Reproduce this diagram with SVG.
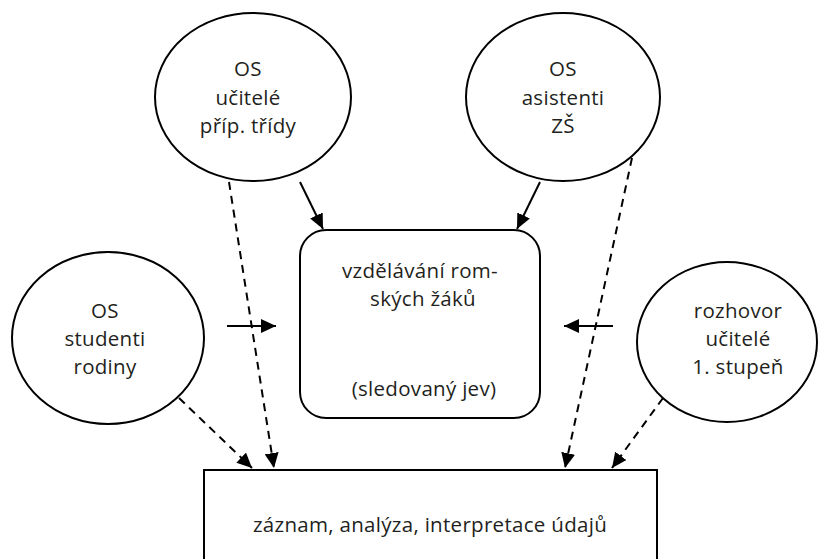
<svg xmlns="http://www.w3.org/2000/svg" width="819" height="559" viewBox="0 0 819 559">
<style>
.n{fill:#fff;stroke:#000;stroke-width:2}
.t{font-family:"Open Sans","Liberation Sans",sans-serif;font-size:20.5px;letter-spacing:0.3px;fill:#231f20;text-anchor:middle}
.c{fill:none;stroke:#000;stroke-width:2}
.d{stroke-dasharray:8 6}
</style>
<defs>
<marker id="ah" markerUnits="userSpaceOnUse" markerWidth="16" markerHeight="14" refX="15" refY="7" orient="auto">
<path d="M0,0 L15,7 L0,14 Z" fill="#000"/>
</marker>
</defs>
<g id="n1"><ellipse class="n" cx="253" cy="97" rx="98" ry="84"/>
<text class="t" x="248" y="76">OS</text><text class="t" x="248" y="105">učitelé</text><text class="t" x="248" y="133">příp. třídy</text></g>
<g id="n2"><ellipse class="n" cx="563" cy="97" rx="97" ry="84"/>
<text class="t" x="563" y="76">OS</text><text class="t" x="563" y="105">asistenti</text><text class="t" x="563" y="133">ZŠ</text></g>
<g id="n3"><ellipse class="n" cx="108" cy="338" rx="96" ry="86"/>
<text class="t" x="105" y="318">OS</text><text class="t" x="105" y="346">studenti</text><text class="t" x="105" y="374">rodiny</text></g>
<g id="n4"><ellipse class="n" cx="727" cy="342" rx="90" ry="80"/>
<text class="t" x="738" y="318">rozhovor</text><text class="t" x="738" y="346">učitelé</text><text class="t" x="738" y="374">1. stupeň</text></g>
<g id="n5"><rect class="n" x="300" y="230" width="240" height="188" rx="26"/>
<text class="t" x="420" y="278">vzdělávání rom-</text><text class="t" x="423" y="306">ských žáků</text><text class="t" x="424" y="396">(sledovaný jev)</text></g>
<g id="n6"><rect class="n" x="204" y="470" width="453" height="95"/>
<text class="t" x="430" y="532">záznam, analýza, interpretace údajů</text></g>
<g id="connectors">
<line class="c" x1="300" y1="182" x2="323" y2="229" marker-end="url(#ah)"/>
<line class="c" x1="540" y1="182" x2="517" y2="229" marker-end="url(#ah)"/>
<line class="c" x1="227" y1="326" x2="276" y2="326" marker-end="url(#ah)"/>
<line class="c" x1="613" y1="326" x2="564" y2="326" marker-end="url(#ah)"/>
<line class="c d" x1="229" y1="182" x2="274" y2="468" marker-end="url(#ah)"/>
<line class="c d" x1="179" y1="398" x2="252" y2="468" marker-end="url(#ah)"/>
<line class="c d" x1="632" y1="158" x2="565" y2="468" marker-end="url(#ah)"/>
<line class="c d" x1="663" y1="398" x2="612" y2="468" marker-end="url(#ah)"/>
</g>
</svg>
